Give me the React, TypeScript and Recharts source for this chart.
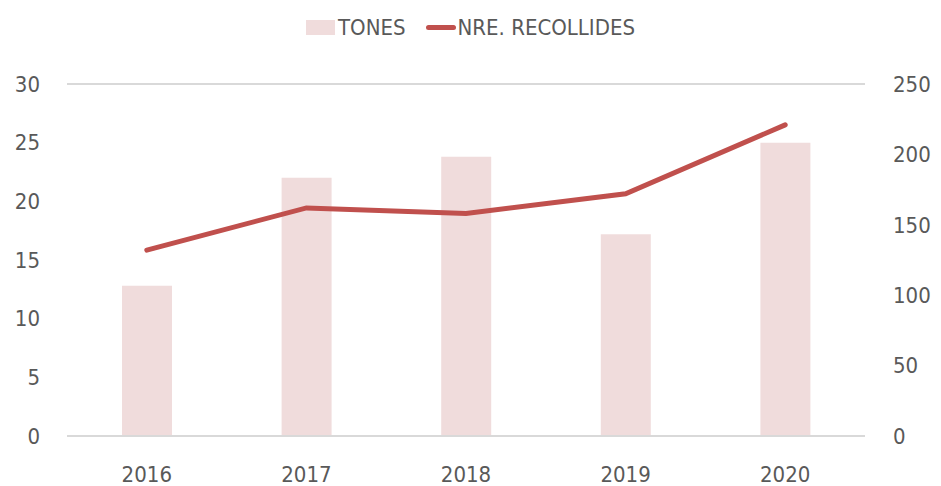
import { ComposedChart, Bar, Line, XAxis, YAxis, CartesianGrid, Legend } from 'recharts';

const years = ['2016', '2017', '2018', '2019', '2020'];
const tones = [12.8, 22.0, 23.8, 17.2, 25.0];
const recollides = [132, 162, 158, 172, 221];
const leftTicks = [0, 5, 10, 15, 20, 25, 30];
const rightTicks = [0, 50, 100, 150, 200, 250];

const BAR_COLOR = '#f0dcdc';
const LINE_COLOR = '#c0504d';
const TEXT_COLOR = '#595959';
const FONT = '"Liberation Sans Narrow", "DejaVu Sans Condensed", sans-serif';

const data = years.map((y, i) => ({ year: y, tones: tones[i], recollides: recollides[i] }));

function ChartLegend() {
    return (
        <div style={{ display: 'flex', justifyContent: 'center', alignItems: 'center', fontFamily: FONT, fontSize: 22, color: TEXT_COLOR, height: 30 }}>
            <span style={{ display: 'inline-block', width: 29, height: 15, background: BAR_COLOR, marginRight: 3 }} />
            <span style={{ marginRight: 20 }}>TONES</span>
            <span style={{ display: 'inline-block', width: 30, height: 5, borderRadius: 3, background: LINE_COLOR, marginRight: 2 }} />
            <span>NRE. RECOLLIDES</span>
        </div>
    );
}

export default function App() {
    const tick = { fontSize: 22, fill: TEXT_COLOR, fontFamily: FONT };
    return (
        <div style={{ position: 'absolute', left: 0, top: 0, width: 941, height: 486, background: '#fff' }}>
            <ComposedChart width={941} height={486} data={data} margin={{ top: 54, right: 0, left: 0, bottom: 0 }}>
                <Legend verticalAlign="top" content={<ChartLegend />} wrapperStyle={{ top: 12, left: 0, width: 941 }} />
                <CartesianGrid vertical={false} stroke="#d9d9d9" strokeWidth={2} />
                <XAxis
                    dataKey="year"
                    tick={tick}
                    tickLine={false}
                    axisLine={{ stroke: '#d9d9d9', strokeWidth: 2 }}
                    height={50}
                    tickMargin={24}
                />
                <YAxis
                    yAxisId="left"
                    domain={[0, 30]}
                    ticks={leftTicks}
                    tick={tick}
                    tickLine={false}
                    axisLine={false}
                    width={67}
                    tickSize={0}
                    tickMargin={27}
                />
                <YAxis
                    yAxisId="right"
                    orientation="right"
                    domain={[0, 250]}
                    ticks={rightTicks}
                    tick={{ ...tick, textAnchor: 'start' }}
                    tickLine={false}
                    axisLine={false}
                    width={76}
                    tickSize={0}
                    tickMargin={28}
                />
                <Bar yAxisId="left" dataKey="tones" name="TONES" fill={BAR_COLOR} barSize={50} isAnimationActive={false} />
                <Line
                    yAxisId="right"
                    dataKey="recollides"
                    name="NRE. RECOLLIDES"
                    stroke={LINE_COLOR}
                    strokeWidth={5}
                    strokeLinecap="round"
                    dot={false}
                    type="linear"
                    isAnimationActive={false}
                />
            </ComposedChart>
        </div>
    );
}
